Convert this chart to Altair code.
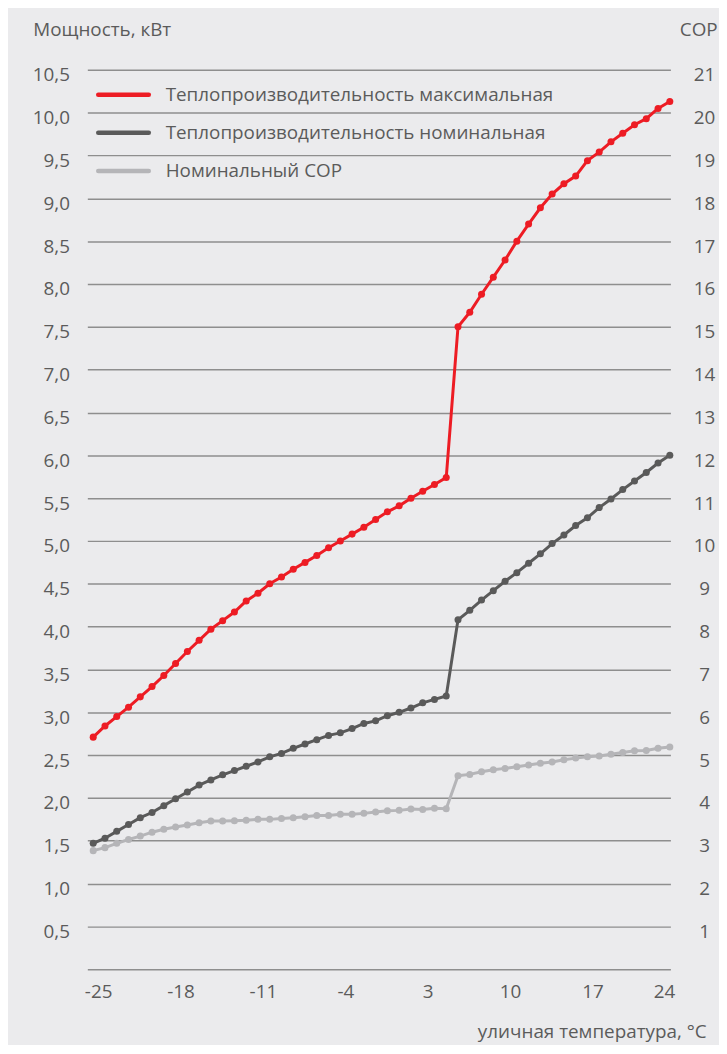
import altair as alt
import pandas as pd

# ---- data ----
temps = list(range(-25, 25))

power_max = [2.71, 2.84, 2.95, 3.06, 3.18, 3.30, 3.43, 3.57, 3.71, 3.84,
             3.97, 4.07, 4.17, 4.30, 4.39, 4.50, 4.58, 4.67, 4.75, 4.83,
             4.92, 5.00, 5.08, 5.16, 5.25, 5.34, 5.41, 5.50, 5.58, 5.66,
             5.74, 7.50, 7.67, 7.88, 8.08, 8.28, 8.50, 8.70, 8.89, 9.05,
             9.17, 9.26, 9.44, 9.54, 9.66, 9.76, 9.86, 9.93, 10.05, 10.13]

power_nom = [1.47, 1.53, 1.61, 1.69, 1.77, 1.83, 1.91, 1.99, 2.07, 2.15,
             2.21, 2.27, 2.32, 2.37, 2.42, 2.48, 2.52, 2.58, 2.63, 2.68,
             2.73, 2.76, 2.81, 2.87, 2.90, 2.96, 3.00, 3.05, 3.11, 3.15,
             3.19, 4.08, 4.19, 4.31, 4.42, 4.53, 4.63, 4.74, 4.85, 4.97,
             5.07, 5.18, 5.27, 5.39, 5.49, 5.60, 5.70, 5.80, 5.91, 6.00]

cop_nom = [2.77, 2.84, 2.94, 3.03, 3.11, 3.20, 3.27, 3.32, 3.37, 3.42,
           3.46, 3.46, 3.47, 3.48, 3.50, 3.50, 3.52, 3.54, 3.56, 3.59,
           3.59, 3.62, 3.62, 3.64, 3.67, 3.70, 3.71, 3.74, 3.73, 3.76,
           3.75, 4.52, 4.55, 4.61, 4.66, 4.69, 4.73, 4.77, 4.81, 4.84,
           4.89, 4.93, 4.96, 4.98, 5.02, 5.06, 5.10, 5.11, 5.16, 5.19]

series_names = ["Теплопроизводительность максимальная",
                "Теплопроизводительность номинальная",
                "Номинальный COP"]
series_colors = ["#ed1c24", "#5a5a5a", "#b5b5b8"]

x_ticks = [-25, -18, -11, -4, 3, 10, 17, 24]
power_ticks = [0.5 * i for i in range(1, 22)]
cop_ticks = list(range(1, 22))

# ---- tables ----
power_df = pd.DataFrame({
    "t": temps * 2,
    "value": power_max + power_nom,
    "series": [series_names[0]] * len(temps) + [series_names[1]] * len(temps),
})
cop_df = pd.DataFrame({"t": temps, "cop": cop_nom, "series": series_names[2]})
legend_df = pd.DataFrame({"series": series_names, "row": [0, 1, 2]})

FONT = "Open Sans"
TXT = "#5b5b5b"
FS = 19

color = alt.Color("series:N", scale=alt.Scale(domain=series_names, range=series_colors), legend=None)

x_enc = alt.X(
    "t:Q",
    scale=alt.Scale(domain=[-25.5, 24.05], nice=False, zero=False),
    axis=alt.Axis(
        values=x_ticks, grid=False, ticks=False, domain=True,
        domainColor="#8e8e8e", domainWidth=1.5,
        labelFontSize=FS, labelColor=TXT, labelPadding=13, labelFont=FONT,
        labelOffset=5,
        labelExpr="'' + datum.value",
        title="уличная температура, °С", titleFont=FONT, titleFontSize=FS,
        titleFontWeight="normal", titleColor=TXT, titleAlign="right",
        titleBaseline="middle", titleX=624, titleY=63, titleAngle=0,
    ),
)

y_power = alt.Y(
    "value:Q",
    scale=alt.Scale(domain=[0, 10.5], nice=False, zero=True),
    axis=alt.Axis(
        values=power_ticks, grid=True, gridColor="#8e8e8e", gridWidth=1.5,
        ticks=False, domain=False,
        labelFontSize=FS, labelColor=TXT, labelPadding=18, labelFont=FONT,
        labelOffset=5,
        labelExpr="replace(format(datum.value, '.1f'), '.', ',')",
        title="Мощность, кВт", titleFont=FONT, titleFontSize=FS,
        titleFontWeight="normal", titleColor=TXT, titleAngle=0,
        titleAlign="left", titleBaseline="middle", titleX=-55, titleY=-41,
    ),
)

y_cop = alt.Y(
    "cop:Q",
    scale=alt.Scale(domain=[0, 21], nice=False, zero=True),
    axis=alt.Axis(
        orient="right", values=cop_ticks, grid=False, ticks=False, domain=False,
        labelFontSize=FS, labelColor=TXT, labelPadding=34, labelFont=FONT,
        labelAlign="center", labelOffset=5,
        title="COP", titleFont=FONT, titleFontSize=FS, titleFontWeight="normal",
        titleColor=TXT, titleAngle=0, titleAlign="left", titleBaseline="middle",
        titleX=9, titleY=-41,
    ),
)

power_base = alt.Chart(power_df).encode(x=x_enc, y=y_power, color=color)
power_layer = alt.layer(
    power_base.mark_line(strokeWidth=3),
    power_base.mark_circle(size=50, opacity=1),
)

cop_base = alt.Chart(cop_df).encode(x=alt.X("t:Q"), y=y_cop, color=color)
cop_layer = alt.layer(
    cop_base.mark_line(strokeWidth=3),
    cop_base.mark_circle(size=50, opacity=1),
)

leg_y = alt.Y("row:Q", scale=alt.Scale(domain=[0, 2], range=[25, 102]), axis=None)
legend_rule = alt.Chart(legend_df).mark_rule(strokeWidth=4.5, strokeCap="round").encode(
    x=alt.value(11), x2=alt.value(62), y=leg_y, color=color
)
legend_text = alt.Chart(legend_df).mark_text(
    align="left", baseline="middle", fontSize=FS, font=FONT, color=TXT
).encode(x=alt.value(79), y=leg_y, text="series:N")
legend_layer = alt.layer(legend_rule, legend_text)

chart = (
    alt.layer(cop_layer, power_layer, legend_layer)
    .resolve_scale(y="independent")
    .properties(
        width=588, height=907,
        background="#ebebed",
        autosize=alt.AutoSizeParams(type="none"),
        padding={"left": 80, "top": 58, "right": 49, "bottom": 72},
    )
    .configure_view(stroke=None)
)

chart.save("out.html", embed_options={"renderer": "svg", "actions": False})
